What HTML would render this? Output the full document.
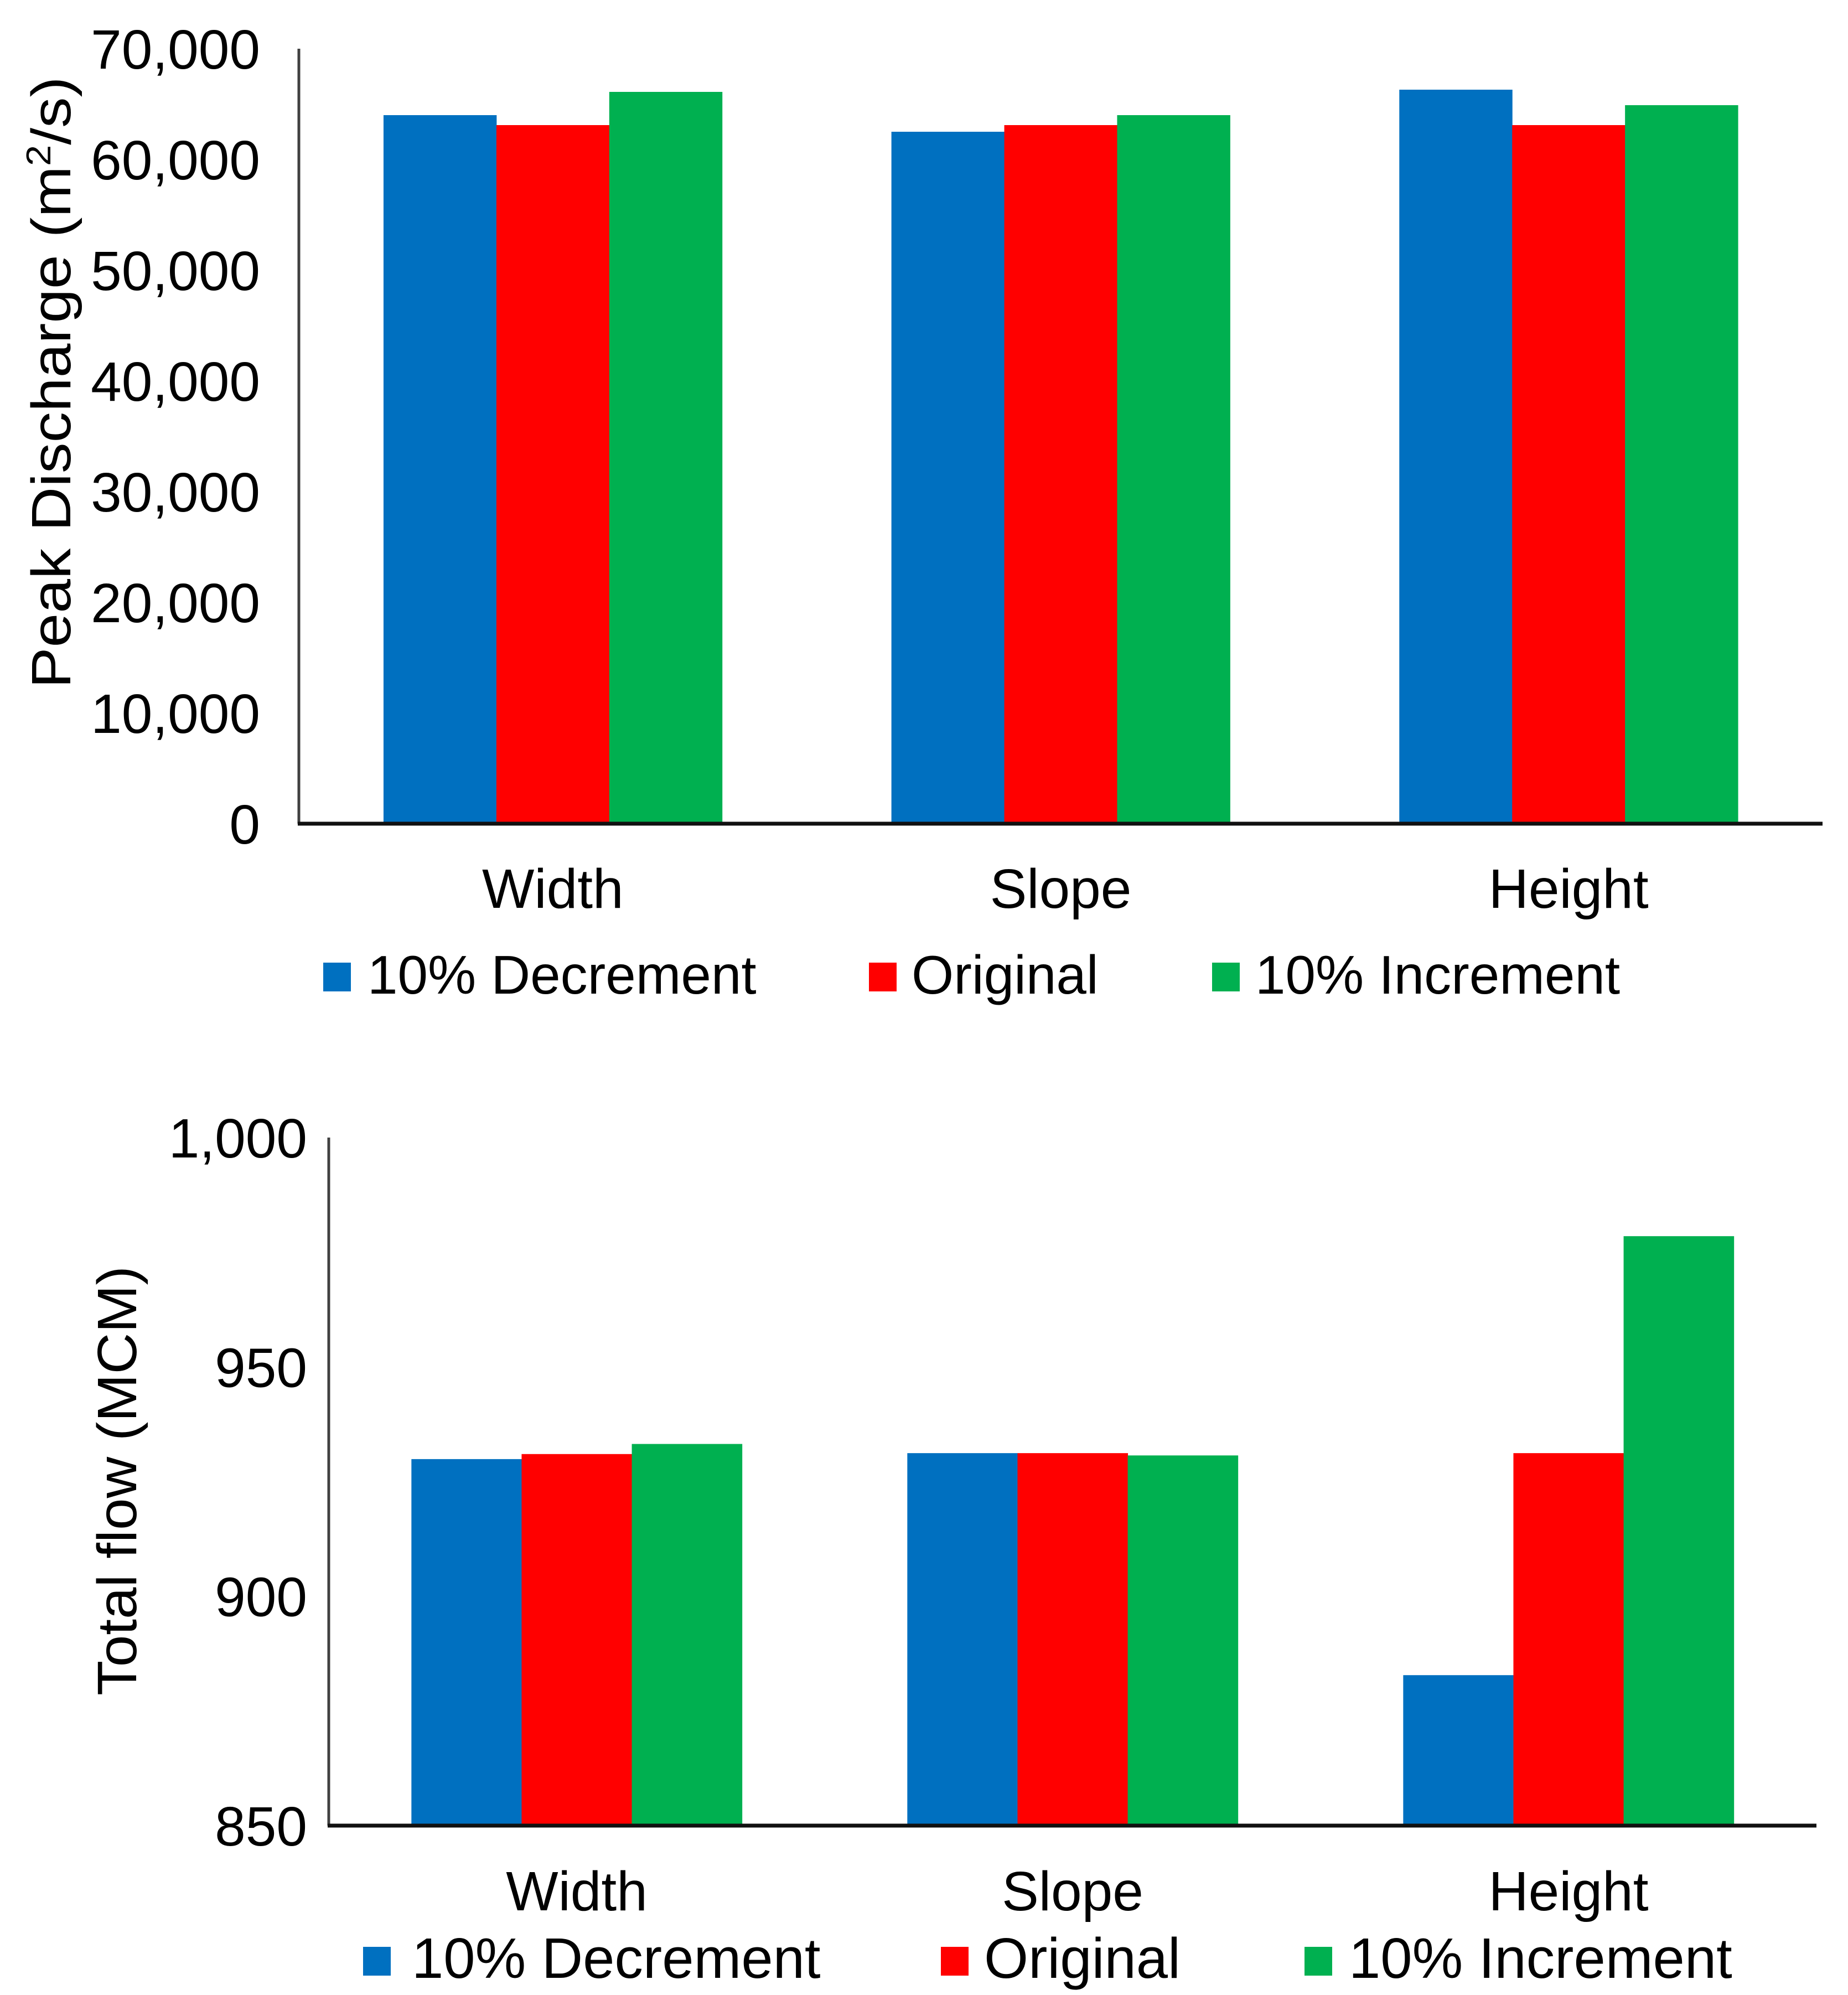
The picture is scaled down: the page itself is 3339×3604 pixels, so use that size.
<!DOCTYPE html>
<html><head><meta charset="utf-8"><style>
html,body{margin:0;padding:0;background:#fff;}
svg{display:block;font-family:"Liberation Sans",Arial,sans-serif;}
</style></head><body>
<svg id="chart" width="3339" height="3604" viewBox="0 0 3339 3604" xmlns="http://www.w3.org/2000/svg">
<rect width="3339" height="3604" fill="#fff"/>
<g id="top"></g>
<g id="bot"></g>
</svg>
<script>
const categories = ["Width", "Slope", "Height"];
const seriesNames = ["10% Decrement", "Original", "10% Increment"];
const seriesColors = ["#0070c0", "#ff0000", "#00b050"];
const peakDecrement = [64000, 62500, 66300];
const peakOriginal = [63100, 63100, 63100];
const peakIncrement = [66100, 64000, 64900];
const peakTicks = [0, 10000, 20000, 30000, 40000, 50000, 60000, 70000];
const peakTickLabels = ["0", "10,000", "20,000", "30,000", "40,000", "50,000", "60,000", "70,000"];
const flowDecrement = [929.9, 931.2, 882.8];
const flowOriginal = [931.0, 931.2, 931.2];
const flowIncrement = [933.2, 930.7, 978.5];
const flowTicks = [850, 900, 950, 1000];
const flowTickLabels = ["850", "900", "950", "1,000"];

const NS = "http://www.w3.org/2000/svg";
function mk(parent, tag, attrs, text) {
  const e = document.createElementNS(NS, tag);
  for (const k in attrs) e.setAttribute(k, attrs[k]);
  if (text !== undefined) e.textContent = text;
  parent.appendChild(e);
  return e;
}

function drawChart(g, cfg) {
  const yScale = v => cfg.y0 - (v - cfg.vmin) / (cfg.vmax - cfg.vmin) * (cfg.y0 - cfg.y1);
  const catW = (cfg.x1 - cfg.x0) / categories.length;
  const barW = catW * 2 / 9;
  const series = cfg.series;
  categories.forEach((c, i) => {
    const cx = cfg.x0 + catW * (i + 0.5);
    series.forEach((vals, s) => {
      const x = cx - 1.5 * barW + s * barW;
      const y = yScale(vals[i]);
      const r = mk(g, "rect", {x: x, y: y, width: barW + 0.5, height: cfg.y0 - y, fill: seriesColors[s]});
      
      
    });
    const t = mk(g, "text", {x: cx, y: cfg.catY, "font-size": cfg.fs, "text-anchor": "middle", fill: "#000"}, c);
    
    
  });
  cfg.ticks.forEach((v, i) => {
    const t = mk(g, "text", {x: cfg.tickX, y: yScale(v) + 36, "font-size": cfg.fs, "text-anchor": "end", fill: "#000"}, cfg.tickLabels[i]);
    
    
  });
  const ya = mk(g, "line", {x1: cfg.x0, y1: cfg.y1, x2: cfg.x0, y2: cfg.y0, stroke: "#404040", "stroke-width": 5});
  
  
  const xa = mk(g, "line", {x1: cfg.x0 - 2, y1: cfg.y0, x2: cfg.x1, y2: cfg.y0, stroke: "#111", "stroke-width": 7});
  
  
  const yt = mk(g, "text", {transform: "translate(" + cfg.ylX + "," + cfg.ylY + ") rotate(-90)", "font-size": cfg.fs, "text-anchor": "middle", fill: "#000", textLength: cfg.ylLen, lengthAdjust: "spacingAndGlyphs"});
  
  
  if (cfg.sup) {
    mk(yt, "tspan", {}, "Peak Discharge (m");
    mk(yt, "tspan", {dy: -36, "font-size": 62}, "2");
    mk(yt, "tspan", {dy: 36}, "/s)");
  } else {
    yt.textContent = cfg.ylabel;
  }
  seriesNames.forEach((n, s) => {
    const sq = mk(g, "rect", {x: cfg.legSq[s], y: cfg.legY - 56, width: 50, height: 52, fill: seriesColors[s]});
    
    
    const t = mk(g, "text", {x: cfg.legTx[s], y: cfg.legY, "font-size": cfg.legFs, fill: "#000"}, n);
    
    
  });
}

drawChart(document.getElementById("top"), {
  x0: 540, x1: 3293, y0: 1488, y1: 88, vmin: 0, vmax: 70000,
  series: [peakDecrement, peakOriginal, peakIncrement],
  ticks: peakTicks, tickLabels: peakTickLabels, tickX: 470, fs: 100,
  catY: 1640, ylX: 127, ylY: 691, ylLen: 1105, sup: true,
  legY: 1795, legFs: 98, legSq: [584, 1570, 2190], legTx: [664, 1647, 2268]
});
drawChart(document.getElementById("bot"), {
  x0: 594, x1: 3282, y0: 3298, y1: 2055, vmin: 850, vmax: 1000,
  series: [flowDecrement, flowOriginal, flowIncrement],
  ticks: flowTicks, tickLabels: flowTickLabels, tickX: 555, fs: 100,
  catY: 3451, ylX: 246, ylY: 2675, ylLen: 776, ylabel: "Total flow (MCM)",
  legY: 3573, legFs: 103, legSq: [656, 1700, 2357], legTx: [744, 1778, 2437]
});
</script>
</body></html>
